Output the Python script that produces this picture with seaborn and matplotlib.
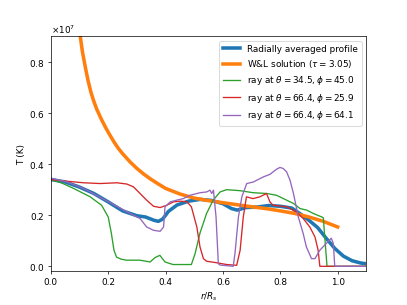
import numpy as np
import pandas as pd
import matplotlib
matplotlib.use("Agg")
import matplotlib.pyplot as plt
import seaborn as sns

# valores (T en unidades de 1e7 K)
r_avg = [0.0, 0.05, 0.1, 0.15, 0.2, 0.25, 0.3, 0.33, 0.36, 0.375, 0.39, 0.41, 0.44, 0.48,
         0.52, 0.56, 0.6, 0.63, 0.65, 0.68, 0.72, 0.76, 0.8, 0.84, 0.87, 0.9, 0.93, 0.96,
         0.99, 1.02, 1.05, 1.08, 1.1]
T_avg = [0.34, 0.33, 0.31, 0.285, 0.252, 0.217, 0.198, 0.193, 0.18, 0.176, 0.185, 0.215,
         0.24, 0.255, 0.262, 0.258, 0.245, 0.226, 0.22, 0.23, 0.232, 0.238, 0.235, 0.228,
         0.205, 0.18, 0.152, 0.11, 0.07, 0.04, 0.022, 0.013, 0.01]

r_wl = [0.09, 0.095, 0.1, 0.105, 0.11, 0.115, 0.12, 0.13, 0.14, 0.15, 0.16, 0.175, 0.19,
        0.205, 0.22, 0.235, 0.25, 0.275, 0.3, 0.325, 0.35, 0.375, 0.4, 0.45, 0.5, 0.55,
        0.6, 0.65, 0.7, 0.75, 0.8, 0.85, 0.9, 0.95, 1.0]
T_wl = [1.0, 0.96, 0.92, 0.88, 0.84, 0.81, 0.78, 0.725, 0.68, 0.645, 0.615, 0.578, 0.545,
        0.515, 0.487, 0.462, 0.441, 0.41, 0.383, 0.36, 0.34, 0.322, 0.305, 0.283, 0.267,
        0.257, 0.249, 0.241, 0.233, 0.226, 0.217, 0.207, 0.193, 0.176, 0.154]

r_ray1 = [0.0, 0.04, 0.079, 0.137, 0.177, 0.2, 0.211, 0.22, 0.229, 0.245, 0.264, 0.31, 0.346,
          0.363, 0.38, 0.398, 0.426, 0.49, 0.503, 0.52, 0.543, 0.566, 0.59, 0.613, 0.66,
          0.706, 0.753, 0.787, 0.822, 0.846, 0.869, 0.892, 0.915, 0.945, 0.95, 0.963, 1.1]
T_ray1 = [0.34, 0.325, 0.305, 0.272, 0.239, 0.193, 0.129, 0.063, 0.036, 0.028, 0.024, 0.024,
          0.017, 0.034, 0.043, 0.017, 0.007, 0.007, 0.05, 0.13, 0.207, 0.259, 0.291, 0.3,
          0.296, 0.288, 0.285, 0.278, 0.259, 0.246, 0.226, 0.22, 0.207, 0.193, 0.19, 0.0, 0.0]

r_ray2 = [0.0, 0.056, 0.114, 0.172, 0.23, 0.265, 0.288, 0.311, 0.334, 0.358, 0.381, 0.404,
          0.427, 0.45, 0.474, 0.49, 0.509, 0.52, 0.532, 0.543, 0.578, 0.613, 0.648, 0.66,
          0.671, 0.682, 0.705, 0.729, 0.752, 0.764, 0.775, 0.822, 0.857, 0.88, 0.903, 0.921,
          0.932, 0.938, 1.1]
T_ray2 = [0.34, 0.333, 0.327, 0.324, 0.327, 0.322, 0.311, 0.285, 0.259, 0.235, 0.23, 0.239,
          0.252, 0.255, 0.253, 0.233, 0.154, 0.076, 0.03, 0.02, 0.014, 0.007, 0.004, 0.063,
          0.193, 0.272, 0.265, 0.272, 0.285, 0.252, 0.239, 0.233, 0.213, 0.187, 0.154, 0.115,
          0.063, 0.0, 0.0]

r_ray3 = [0.0, 0.056, 0.114, 0.172, 0.23, 0.288, 0.311, 0.334, 0.358, 0.381, 0.393, 0.398,
          0.416, 0.439, 0.462, 0.485, 0.52, 0.543, 0.555, 0.561, 0.567, 0.576, 0.584, 0.59,
          0.636, 0.642, 0.654, 0.666, 0.683, 0.706, 0.741, 0.764, 0.787, 0.799, 0.81, 0.822,
          0.834, 0.846, 0.863, 0.88, 0.891, 0.909, 0.921, 0.938, 0.96, 0.978, 0.985, 0.99, 1.1]
T_ray3 = [0.345, 0.33, 0.305, 0.27, 0.235, 0.2, 0.187, 0.154, 0.141, 0.137, 0.154, 0.233,
          0.252, 0.259, 0.265, 0.278, 0.288, 0.291, 0.298, 0.285, 0.298, 0.193, 0.01, 0.005,
          0.0, 0.05, 0.193, 0.272, 0.324, 0.33, 0.35, 0.36, 0.38, 0.387, 0.383, 0.37, 0.337,
          0.285, 0.193, 0.128, 0.076, 0.03, 0.03, 0.063, 0.089, 0.11, 0.089, 0.0, 0.0]

escala = 1e7

fig, ax = plt.subplots(figsize=(6.4, 4.8), dpi=407 / 6.4)

sns.lineplot(x=r_avg, y=np.array(T_avg) * escala, ax=ax, color='#1f77b4', linewidth=4,
             estimator=None, label='Radially averaged profile')
sns.lineplot(x=r_wl, y=np.array(T_wl) * escala, ax=ax, color='#ff7f0e', linewidth=4,
             estimator=None, label=r'W&L solution ($\tau = 3.05$)')
sns.lineplot(x=r_ray1, y=np.array(T_ray1) * escala, ax=ax, color='#2ca02c', linewidth=1.5,
             estimator=None, label=r'ray at $\theta = 34.5, \phi = 45.0$')
sns.lineplot(x=r_ray2, y=np.array(T_ray2) * escala, ax=ax, color='#d62728', linewidth=1.5,
             estimator=None, label=r'ray at $\theta = 66.4, \phi = 25.9$')
sns.lineplot(x=r_ray3, y=np.array(T_ray3) * escala, ax=ax, color='#9467bd', linewidth=1.5,
             estimator=None, label=r'ray at $\theta = 66.4, \phi = 64.1$')

ax.set_xlim(0, 1.1)
ax.set_ylim(-0.02 * escala, 0.9 * escala)
ax.ticklabel_format(axis='y', style='sci', scilimits=(7, 7), useMathText=True)
ax.set_yticks(np.array([0.0, 0.2, 0.4, 0.6, 0.8]) * escala)
ax.set_xlabel('$r/R_s$')
ax.set_ylabel('T (K)')
ax.legend(loc='upper right')

fig.savefig('out.png')
